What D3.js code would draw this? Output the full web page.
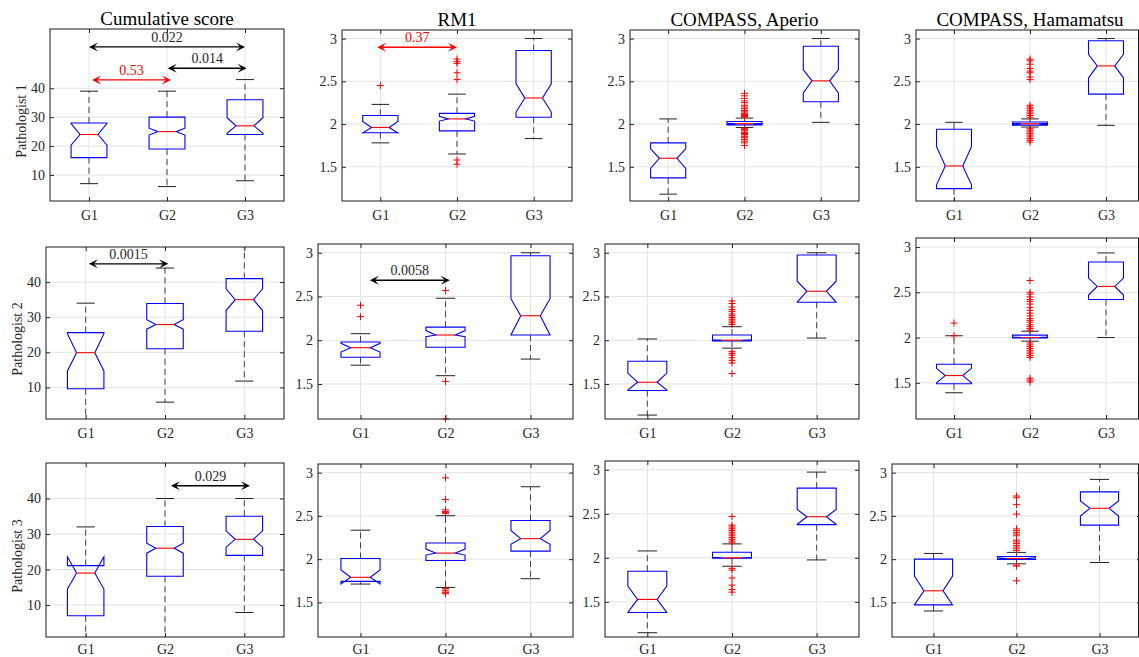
<!DOCTYPE html>
<html>
<head>
<meta charset="utf-8">
<script src="https://cdn.jsdelivr.net/npm/d3@7"></script>
<style>
  body { margin: 0; background: #fff; }
  svg { display: block; font-family: "Liberation Serif", "Times New Roman", serif; }
</style>
</head>
<body>
<svg id="chart"></svg>
<script>
// ---- data ----
const groups = ["G1", "G2", "G3"];
const rowLabels = ["Pathologist 1", "Pathologist 2", "Pathologist 3"];
const colTitles = ["Cumulative score", "RM1", "COMPASS, Aperio", "COMPASS, Hamamatsu"];
const scoreTicks = [10, 20, 30, 40];
const ratioTicks = [1.5, 2, 2.5, 3];
const scoreDomains = [[1, 60.5], [1, 50], [1, 50]];
const ratioDomain = [1.1, 3.1];

// box = [lowWhisker, q1, notchLow, median, notchHigh, q3, highWhisker]
// columns: cumulative, RM1, Aperio, Hamamatsu
const statsP1 = [
  [[7, 16, 20.3, 24, 27.8, 28, 39], [6, 19, 23.8, 25, 26.2, 30, 39], [8, 24, 24.4, 27, 29.8, 36, 43]],
  [[1.78, 1.898, 1.895, 1.96, 2.03, 2.10, 2.23], [1.65, 1.92, 2.035, 2.06, 2.09, 2.125, 2.35], [1.83, 2.08, 2.14, 2.305, 2.47, 2.86, 3.0]],
  [[1.18, 1.37, 1.48, 1.60, 1.71, 1.78, 2.06], [1.96, 1.99, 1.998, 2.004, 2.01, 2.03, 2.07], [2.02, 2.26, 2.365, 2.505, 2.635, 2.91, 3.0]],
  [[1.0, 1.245, 1.29, 1.51, 1.735, 1.94, 2.02], [1.965, 1.988, 1.998, 2.004, 2.01, 2.024, 2.06], [1.985, 2.35, 2.54, 2.68, 2.815, 2.975, 3.0]]
];
const statsP2 = [
  [[0, 9.6, 14.7, 19.9, 25.3, 25.6, 34], [5.8, 21, 26.6, 27.9, 29.3, 33.9, 44], [11.8, 26, 31.9, 35, 38.1, 41, 55]],
  [[1.715, 1.805, 1.865, 1.915, 1.965, 1.98, 2.075], [1.595, 1.92, 2.04, 2.06, 2.11, 2.15, 2.48], [1.785, 2.06, 2.06, 2.28, 2.475, 2.965, 3.0]],
  [[1.145, 1.425, 1.43, 1.52, 1.625, 1.76, 2.015], [1.91, 1.992, 1.995, 2.0, 2.005, 2.06, 2.155], [2.025, 2.435, 2.437, 2.56, 2.675, 2.975, 3.0]],
  [[1.39, 1.49, 1.50, 1.58, 1.66, 1.705, 2.02], [1.96, 1.996, 1.998, 2.0, 2.005, 2.027, 2.07], [2.0, 2.42, 2.47, 2.565, 2.657, 2.835, 2.935]]
];
const statsP3 = [
  [[0, 7, 14.5, 19, 23.6, 21.1, 32], [0, 18.1, 24.6, 26, 27.4, 32.1, 40], [7.9, 24, 26.3, 28.5, 30.9, 35, 40]],
  [[1.712, 1.743, 1.712, 1.79, 1.876, 2.008, 2.335], [1.673, 1.984, 2.047, 2.07, 2.117, 2.187, 2.502], [1.774, 2.093, 2.171, 2.237, 2.331, 2.447, 2.837]],
  [[1.149, 1.379, 1.38, 1.527, 1.678, 1.848, 2.078], [1.904, 1.995, 1.996, 2.0, 2.005, 2.063, 2.158], [1.976, 2.377, 2.38, 2.467, 2.55, 2.792, 2.974]],
  [[1.401, 1.471, 1.471, 1.634, 1.805, 2.0, 2.066], [1.946, 1.996, 2.0, 2.008, 2.015, 2.031, 2.078], [1.961, 2.393, 2.498, 2.588, 2.673, 2.778, 2.922]]
];

const outliersP1 = [
  [[], [], []],
  [[2.45], [2.76, 2.73, 2.71, 2.60, 2.52, 1.58, 1.53], []],
  [[], [2.36, 2.33, 2.30, 2.27, 2.25, 2.22, 2.20, 2.18, 2.16, 2.15, 2.13, 2.12, 2.11, 2.10, 2.09, 2.08,
        1.95, 1.94, 1.93, 1.92, 1.90, 1.89, 1.88, 1.86, 1.85, 1.84, 1.82, 1.80, 1.78, 1.75], []],
  [[], [2.76, 2.74, 2.70, 2.65, 2.62, 2.60, 2.55, 2.52, 2.22, 2.20, 2.18, 2.16, 2.14, 2.12, 2.10, 2.08,
        1.95, 1.93, 1.91, 1.89, 1.87, 1.85, 1.83, 1.81, 1.79], []]
];
const outliersP2 = [
  [[], [], []],
  [[2.40, 2.27], [2.57, 1.53, 1.1], []],
  [[], [2.45, 2.42, 2.38, 2.35, 2.33, 2.30, 2.28, 2.26, 2.24, 2.22, 2.20, 2.18,
        1.87, 1.85, 1.83, 1.80, 1.77, 1.74, 1.62], []],
  [[2.16, 2.02], [2.63, 2.50, 2.48, 2.45, 2.42, 2.40, 2.37, 2.33, 2.30, 2.27, 2.24, 2.21, 2.19, 2.17, 2.14, 2.12, 2.10, 2.08,
        1.94, 1.92, 1.90, 1.88, 1.86, 1.84, 1.82, 1.80, 1.78, 1.55, 1.53, 1.51], []]
];
const outliersP3 = [
  [[], [], []],
  [[], [2.94, 2.69, 2.57, 2.55, 2.54, 2.53, 1.66, 1.64, 1.62, 1.61, 1.60], []],
  [[], [2.47, 2.37, 2.35, 2.33, 2.31, 2.29, 2.27, 2.25, 2.23, 2.21, 2.19, 2.17,
        1.88, 1.86, 1.77, 1.69, 1.64, 1.61], []],
  [[], [2.73, 2.71, 2.63, 2.52, 2.35, 2.33, 2.31, 2.29, 2.27, 2.22, 2.20, 2.18, 2.16, 2.14, 2.12, 2.10,
        1.93, 1.92, 1.75], []]
];

// p-value brackets (double arrows), x in group units, y in data units
const pValues = [
  { row: 0, col: 0, from: 1, to: 3, y: 54.3, label: "0.022", color: "#000" },
  { row: 0, col: 0, from: 2.01, to: 3.02, y: 46.9, label: "0.014", color: "#000" },
  { row: 0, col: 0, from: 1.04, to: 2.05, y: 42.9, label: "0.53", color: "#ff0000" },
  { row: 0, col: 1, from: 0.96, to: 2.0, y: 2.898, label: "0.37", color: "#ff0000" },
  { row: 1, col: 0, from: 1.04, to: 2.04, y: 45.2, label: "0.0015", color: "#000" },
  { row: 1, col: 1, from: 1.11, to: 2.05, y: 2.686, label: "0.0058", color: "#000" },
  { row: 2, col: 0, from: 2.075, to: 3.07, y: 43.6, label: "0.029", color: "#000" }
];

const allStats = [statsP1, statsP2, statsP3];
const allOutliers = [outliersP1, outliersP2, outliersP3];

// ---- layout ----
const width = 1139, height = 657;
// [left, right, top, bottom] of each axes box
const panelRects = [
  [[50, 284, 29, 201], [342, 572, 30, 201], [630, 859, 30, 201], [916, 1144, 30, 201]],
  [[46, 284, 247, 419], [318, 573, 244, 419], [605, 859, 244, 419], [916, 1144, 238, 419]],
  [[46, 284, 463, 637], [318, 573, 464, 637], [605, 859, 461, 637], [892, 1141, 464, 637]]
];
const boxWidth = 0.46;
const gridColor = "#e3e3e3";
const textColor = "#262626";

const svg = d3.select("#chart")
  .attr("width", width)
  .attr("height", height)
  .style("background-color", "#fff");

const defs = svg.append("defs");

const arrowHead = (x, y, dir) => {
  // dir = -1 points left, 1 points right
  const L = 9, H = 4.5, N = 5;
  return `M${x},${y} L${x - dir * L},${y - H} L${x - dir * N},${y} L${x - dir * L},${y + H} Z`;
};

allStats.forEach((rowStats, r) => {
  rowStats.forEach((panelStats, c) => {
    const [x0, x1, y0, y1] = panelRects[r][c];
    const x = d3.scaleLinear().domain([0.5, 3.5]).range([x0, x1]);
    const y = d3.scaleLinear().domain(c === 0 ? scoreDomains[r] : ratioDomain).range([y1, y0]);
    const ticks = c === 0 ? scoreTicks : ratioTicks;
    const g = svg.append("g");

    const clipId = `clip-${r}-${c}`;
    defs.append("clipPath").attr("id", clipId)
      .append("rect").attr("x", x0).attr("y", y0).attr("width", x1 - x0).attr("height", y1 - y0);

    // grid
    g.selectAll(".hgrid").data(ticks).enter().append("line")
      .attr("x1", x0).attr("x2", x1)
      .attr("y1", d => y(d)).attr("y2", d => y(d))
      .attr("stroke", gridColor).attr("stroke-width", 1);
    g.selectAll(".vgrid").data([1, 2, 3]).enter().append("line")
      .attr("x1", d => x(d)).attr("x2", d => x(d))
      .attr("y1", y0).attr("y2", y1)
      .attr("stroke", gridColor).attr("stroke-width", 1);

    // axes
    const left = g.append("g").attr("transform", `translate(${x0},0)`)
      .call(d3.axisLeft(y).tickValues(ticks).tickSizeInner(-4).tickSizeOuter(0).tickPadding(5).tickFormat(d3.format("~g")));
    const right = g.append("g").attr("transform", `translate(${x1},0)`)
      .call(d3.axisRight(y).tickValues(ticks).tickSizeInner(-4).tickSizeOuter(0).tickFormat(""));
    const bottom = g.append("g").attr("transform", `translate(0,${y1})`)
      .call(d3.axisBottom(x).tickValues([1, 2, 3]).tickSizeInner(-4).tickSizeOuter(0).tickPadding(r === 2 ? 7 : 9).tickFormat(d => groups[d - 1]));
    const top = g.append("g").attr("transform", `translate(0,${y0})`)
      .call(d3.axisTop(x).tickValues([1, 2, 3]).tickSizeInner(-4).tickSizeOuter(0).tickFormat(""));
    [left, right, bottom, top].forEach(a => {
      a.select(".domain").remove();
      a.attr("font-family", null).attr("font-size", 14);
      a.selectAll("line").attr("stroke", textColor);
      a.selectAll("text").attr("fill", textColor);
    });

    // boxes
    const marks = g.append("g").attr("clip-path", `url(#${clipId})`);
    panelStats.forEach((s, i) => {
      const [wlo, q1, nlo, med, nhi, q3, whi] = s;
      const cx = x(i + 1);
      const hw = (x(1 + boxWidth / 2) - x(1));
      const bl = cx - hw, br = cx + hw, nl = cx - hw / 2, nr = cx + hw / 2;
      const capHw = hw / 2;

      // whiskers
      marks.append("line").attr("x1", cx).attr("x2", cx).attr("y1", y(q3)).attr("y2", y(whi))
        .attr("stroke", "#444").attr("stroke-dasharray", "6,4");
      marks.append("line").attr("x1", cx).attr("x2", cx).attr("y1", y(q1)).attr("y2", y(wlo))
        .attr("stroke", "#444").attr("stroke-dasharray", "6,4");
      [whi, wlo].forEach(v => {
        marks.append("line").attr("x1", cx - capHw).attr("x2", cx + capHw)
          .attr("y1", y(v)).attr("y2", y(v)).attr("stroke", "#222");
      });

      // notched box
      const pts = [
        [bl, y(q1)], [bl, y(nlo)], [nl, y(med)], [bl, y(nhi)], [bl, y(q3)],
        [br, y(q3)], [br, y(nhi)], [nr, y(med)], [br, y(nlo)], [br, y(q1)]
      ];
      marks.append("path")
        .attr("d", d3.line()(pts) + "Z")
        .attr("fill", "none").attr("stroke", "#0000ff").attr("stroke-width", 1.1);
      marks.append("line").attr("x1", nl).attr("x2", nr).attr("y1", y(med)).attr("y2", y(med))
        .attr("stroke", "#ff0000").attr("stroke-width", 1.1);
    });

    // outliers
    allOutliers[r][c].forEach((vals, i) => {
      const cx = x(i + 1);
      g.selectAll(null).data(vals).enter().append("path")
        .attr("d", d => `M${cx - 3.5},${y(d)}H${cx + 3.5}M${cx},${y(d) - 3.5}V${y(d) + 3.5}`)
        .attr("stroke", "#ff0000").attr("stroke-width", 1).attr("fill", "none");
    });

    // frame (right edge of the last column sits at the picture border)
    const fx1 = Math.min(x1, width - 0.5);
    g.append("rect").attr("x", x0).attr("y", y0).attr("width", fx1 - x0).attr("height", y1 - y0)
      .attr("fill", "none").attr("stroke", "#1a1a1a").attr("stroke-width", 1);

    // p-value arrows
    pValues.filter(p => p.row === r && p.col === c).forEach(p => {
      const xa = x(p.from), xb = x(p.to), ya = y(p.y);
      g.append("line").attr("x1", xa + 5).attr("x2", xb - 5).attr("y1", ya).attr("y2", ya)
        .attr("stroke", p.color).attr("stroke-width", 1.4);
      g.append("path").attr("d", arrowHead(xa, ya, -1)).attr("fill", p.color);
      g.append("path").attr("d", arrowHead(xb, ya, 1)).attr("fill", p.color);
      g.append("text").attr("x", (xa + xb) / 2).attr("y", ya - 5)
        .attr("text-anchor", "middle").attr("font-size", 14).attr("fill", p.color === "#000" ? textColor : p.color)
        .text(p.label);
    });

    // titles and row labels
    if (r === 0) {
      g.append("text").attr("x", (x0 + x1) / 2).attr("y", y0 - 4)
        .attr("text-anchor", "middle").attr("font-size", 19).attr("fill", "#000")
        .text(colTitles[c]);
    }
    if (c === 0) {
      g.append("text")
        .attr("transform", `translate(${x0 - 29},${(y0 + y1) / 2 + 6}) rotate(-90)`)
        .attr("text-anchor", "middle").attr("dy", "0.35em")
        .attr("font-size", 14).attr("fill", textColor)
        .text(rowLabels[r]);
    }
  });
});
</script>
</body>
</html>
